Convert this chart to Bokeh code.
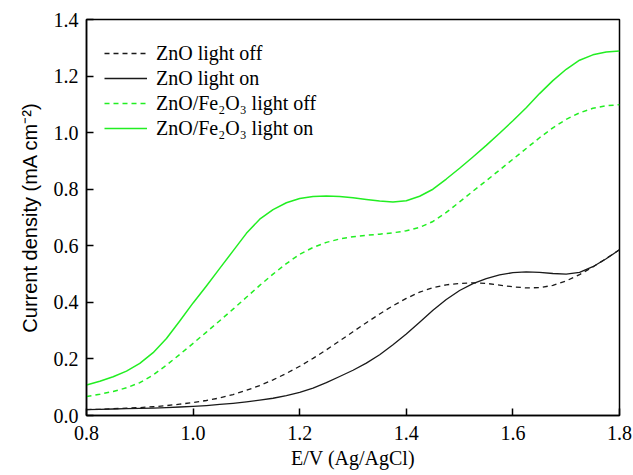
from bokeh.plotting import figure
from bokeh.models import Range1d, FixedTicker, PrintfTickFormatter, Legend, LegendItem
from bokeh.embed import file_html
from bokeh.resources import INLINE

# ---- data ----
potential = [0.800, 0.825, 0.850, 0.875, 0.900, 0.925, 0.950, 0.975, 1.000, 1.025,
             1.050, 1.075, 1.100, 1.125, 1.150, 1.175, 1.200, 1.225, 1.250, 1.275,
             1.300, 1.325, 1.350, 1.375, 1.400, 1.425, 1.450, 1.475, 1.500, 1.525,
             1.550, 1.575, 1.600, 1.625, 1.650, 1.675, 1.700, 1.725, 1.750, 1.775, 1.800]

zno_off = [0.021, 0.022, 0.024, 0.026, 0.028, 0.031, 0.035, 0.040, 0.046, 0.053,
           0.062, 0.074, 0.089, 0.106, 0.126, 0.149, 0.174, 0.202, 0.232, 0.264,
           0.296, 0.328, 0.359, 0.388, 0.414, 0.436, 0.452, 0.462, 0.467, 0.469,
           0.467, 0.461, 0.455, 0.451, 0.452, 0.460, 0.476, 0.498, 0.525, 0.555, 0.586]

zno_on = [0.021, 0.022, 0.023, 0.024, 0.025, 0.026, 0.028, 0.030, 0.032, 0.035,
          0.039, 0.043, 0.048, 0.054, 0.061, 0.070, 0.082, 0.097, 0.116, 0.138,
          0.160, 0.185, 0.215, 0.250, 0.288, 0.330, 0.372, 0.410, 0.442, 0.466,
          0.484, 0.497, 0.505, 0.508, 0.506, 0.502, 0.500, 0.506, 0.526, 0.554, 0.586]

znofe_off = [0.067, 0.075, 0.085, 0.098, 0.116, 0.143, 0.178, 0.216, 0.255, 0.295,
             0.335, 0.376, 0.418, 0.460, 0.500, 0.537, 0.570, 0.594, 0.612, 0.624,
             0.632, 0.637, 0.641, 0.646, 0.653, 0.665, 0.686, 0.718, 0.755, 0.793,
             0.830, 0.868, 0.906, 0.944, 0.982, 1.017, 1.047, 1.070, 1.086, 1.095, 1.099]

znofe_on = [0.108, 0.121, 0.137, 0.157, 0.184, 0.222, 0.272, 0.334, 0.398, 0.458,
            0.520, 0.582, 0.644, 0.694, 0.728, 0.752, 0.767, 0.774, 0.776, 0.774,
            0.770, 0.764, 0.758, 0.755, 0.759, 0.775, 0.800, 0.836, 0.874, 0.914,
            0.955, 0.998, 1.042, 1.088, 1.138, 1.184, 1.224, 1.256, 1.275, 1.285, 1.289]

x_ticks = [0.8, 1.0, 1.2, 1.4, 1.6, 1.8]
y_ticks = [0.0, 0.2, 0.4, 0.6, 0.8, 1.0, 1.2, 1.4]

labels = ["ZnO light off", "ZnO light on", "ZnO/Fe\u2082O\u2083 light off", "ZnO/Fe\u2082O\u2083 light on"]

SERIF = "Liberation Serif"
SANS = "Liberation Sans"

# ---- figure ----
p = figure(width=633, height=475, output_backend="svg", toolbar_location=None,
           x_range=Range1d(0.8, 1.8), y_range=Range1d(0.0, 1.4),
           min_border_left=86, min_border_right=14, min_border_top=19, min_border_bottom=60)

p.xgrid.visible = False
p.ygrid.visible = False
p.outline_line_color = "black"
p.outline_line_width = 1.5
p.background_fill_color = "white"
p.border_fill_color = "white"

black = "#1a1a1a"
green = "#22ee22"
r1 = p.line(potential, zno_off, line_color=black, line_width=1.3, line_dash="5 4", line_join="round")
r2 = p.line(potential, zno_on, line_color=black, line_width=1.3, line_join="round")
r3 = p.line(potential, znofe_off, line_color=green, line_width=1.5, line_dash="5 4", line_join="round")
r4 = p.line(potential, znofe_on, line_color=green, line_width=1.5, line_join="round")

for ax in (p.xaxis[0], p.yaxis[0]):
    ax.major_tick_in = 7
    ax.major_tick_out = 0
    ax.minor_tick_in = 0
    ax.minor_tick_out = 0
    ax.axis_line_width = 1.5
    ax.axis_line_color = "black"
    ax.major_tick_line_width = 1.5
    ax.major_tick_line_color = "black"
    ax.major_label_text_font = SERIF
    ax.major_label_text_font_size = "20px"
    ax.major_label_text_color = "black"
    ax.axis_label_text_font_style = "normal"
    ax.axis_label_text_color = "black"
    ax.axis_label_text_font_size = "20px"

p.xaxis.ticker = FixedTicker(ticks=x_ticks)
p.yaxis.ticker = FixedTicker(ticks=y_ticks)
p.xaxis.formatter = PrintfTickFormatter(format="%.1f")
p.yaxis.formatter = PrintfTickFormatter(format="%.1f")
p.xaxis.major_label_standoff = 10
p.yaxis.major_label_standoff = 8

p.xaxis.axis_label = "E/V (Ag/AgCl)"
p.xaxis.axis_label_text_font = SERIF
p.xaxis.axis_label_standoff = 4
p.yaxis.axis_label = "Current density (mA cm\u207b\u00b2)"
p.yaxis.axis_label_text_font = SANS
p.yaxis.axis_label_standoff = 10

legend = Legend(items=[LegendItem(label=labels[0], renderers=[r1]),
                       LegendItem(label=labels[1], renderers=[r2]),
                       LegendItem(label=labels[2], renderers=[r3]),
                       LegendItem(label=labels[3], renderers=[r4])],
                location=(18, 275))
legend.border_line_color = None
legend.background_fill_alpha = 0
legend.margin = 0
legend.padding = 17
legend.spacing = 1
legend.glyph_width = 43
legend.glyph_height = 24
legend.label_height = 24
legend.label_standoff = 9
legend.label_text_font = SERIF
legend.label_text_font_size = "20px"
legend.label_text_color = "black"
p.add_layout(legend)

open("out.html", "w").write(file_html(p, INLINE))
